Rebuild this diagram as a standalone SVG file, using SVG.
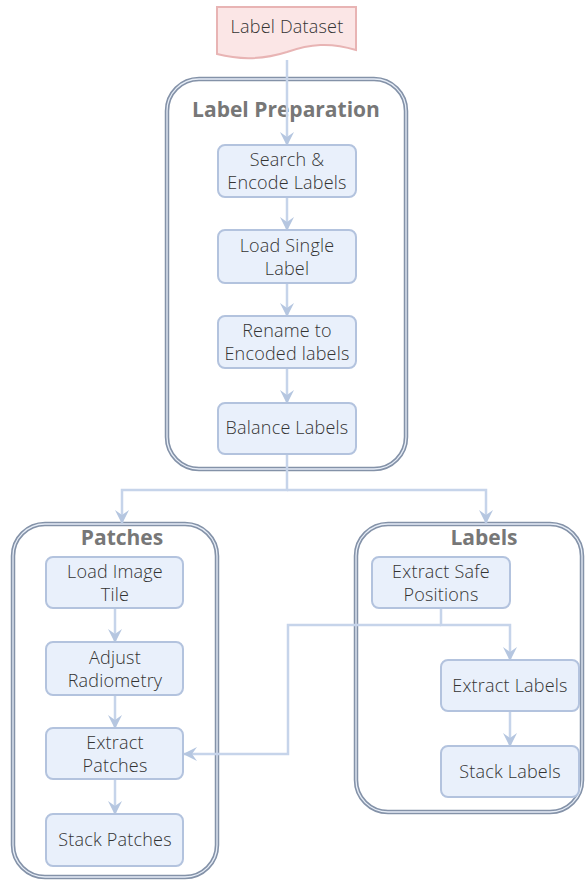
<svg xmlns="http://www.w3.org/2000/svg" width="585" height="881" viewBox="0 0 585 881">
  <defs>
    <style>
      .box { fill: #e9f0fb; stroke: #b3c3de; stroke-width: 2; }
      .txt { font-family: "Open Sans", "DejaVu Sans", sans-serif; font-size: 18px; font-weight: 300; fill: #333; text-anchor: middle; letter-spacing: 0.2px; }
      .title { font-family: "Open Sans", "DejaVu Sans", sans-serif; font-size: 21px; font-weight: 700; fill: #777; text-anchor: middle; }
      .grp-outer { fill: #fff; stroke: #8492a8; stroke-width: 4.5; }
      .grp-inner { fill: none; stroke: #e6edf7; stroke-width: 1.3; }
      .edge { fill: none; stroke: #c6d4ea; stroke-width: 2.5; }
      .doc { fill: #fbe6e6; stroke: #e8b4b4; stroke-width: 2; }
    </style>
    <marker id="arrow" viewBox="0 0 14 14" refX="13" refY="7" markerWidth="14" markerHeight="14" markerUnits="userSpaceOnUse" orient="auto">
      <path d="M0,0 L14,7 L0,14 L5,7 z" fill="#b5c6e0"/>
    </marker>
  </defs>

  <!-- containers -->
  <g id="group-label-preparation">
    <rect class="grp-outer" x="167" y="79" width="239" height="390" rx="32"/>
    <rect class="grp-inner" x="167" y="79" width="239" height="390" rx="32"/>
    <text class="title" x="286" y="117">Label Preparation</text>
  </g>
  <g id="group-patches">
    <rect class="grp-outer" x="13" y="524" width="204" height="353" rx="32"/>
    <rect class="grp-inner" x="13" y="524" width="204" height="353" rx="32"/>
    <text class="title" x="122" y="545">Patches</text>
  </g>
  <g id="group-labels">
    <rect class="grp-outer" x="356" y="524" width="226" height="288" rx="32"/>
    <rect class="grp-inner" x="356" y="524" width="226" height="288" rx="32"/>
    <text class="title" x="484" y="545">Labels</text>
  </g>

  <!-- connectors -->
  <g id="connectors">
    <path class="edge" d="M287,60 L287,145" marker-end="url(#arrow)"/>
    <path class="edge" d="M287,197 L287,230" marker-end="url(#arrow)"/>
    <path class="edge" d="M287,283 L287,316" marker-end="url(#arrow)"/>
    <path class="edge" d="M287,368 L287,403" marker-end="url(#arrow)"/>
    <path class="edge" d="M287,454 L287,490 L122,490 L122,523" marker-end="url(#arrow)"/>
    <path class="edge" d="M287,490 L486,490 L486,523" marker-end="url(#arrow)"/>
    <path class="edge" d="M115,608 L115,642" marker-end="url(#arrow)"/>
    <path class="edge" d="M115,695 L115,728" marker-end="url(#arrow)"/>
    <path class="edge" d="M115,779 L115,814" marker-end="url(#arrow)"/>
    <path class="edge" d="M441,608 L441,625 L510,625 L510,660" marker-end="url(#arrow)"/>
    <path class="edge" d="M441,625 L288,625 L288,754 L184,754" marker-end="url(#arrow)"/>
    <path class="edge" d="M510,711 L510,746" marker-end="url(#arrow)"/>
  </g>

  <!-- nodes -->
  <g id="label-dataset">
    <path class="doc" d="M217,7 L356,7 L356,50 C330,42 310,44 287,52 C262,60 240,60 217,54 Z"/>
    <text class="txt" x="287" y="33">Label Dataset</text>
  </g>
  <g id="search-encode">
    <rect class="box" x="218" y="145" width="138" height="52" rx="7"/>
    <text class="txt" x="287" y="166">Search &amp;</text>
    <text class="txt" x="287" y="189">Encode Labels</text>
  </g>
  <g id="load-single-label">
    <rect class="box" x="218" y="230" width="138" height="53" rx="7"/>
    <text class="txt" x="287" y="252">Load Single</text>
    <text class="txt" x="287" y="275">Label</text>
  </g>
  <g id="rename-encoded">
    <rect class="box" x="218" y="316" width="138" height="52" rx="7"/>
    <text class="txt" x="287" y="337">Rename to</text>
    <text class="txt" x="287" y="360">Encoded labels</text>
  </g>
  <g id="balance-labels">
    <rect class="box" x="218" y="403" width="138" height="51" rx="7"/>
    <text class="txt" x="287" y="434">Balance Labels</text>
  </g>

  <g id="load-image-tile">
    <rect class="box" x="46" y="557" width="137" height="51" rx="7"/>
    <text class="txt" x="115" y="578">Load Image</text>
    <text class="txt" x="115" y="601">Tile</text>
  </g>
  <g id="adjust-radiometry">
    <rect class="box" x="46" y="642" width="137" height="53" rx="7"/>
    <text class="txt" x="115" y="664">Adjust</text>
    <text class="txt" x="115" y="687">Radiometry</text>
  </g>
  <g id="extract-patches">
    <rect class="box" x="46" y="728" width="137" height="51" rx="7"/>
    <text class="txt" x="115" y="749">Extract</text>
    <text class="txt" x="115" y="772">Patches</text>
  </g>
  <g id="stack-patches">
    <rect class="box" x="46" y="814" width="137" height="52" rx="7"/>
    <text class="txt" x="115" y="846">Stack Patches</text>
  </g>

  <g id="extract-safe-positions">
    <rect class="box" x="372" y="557" width="138" height="51" rx="7"/>
    <text class="txt" x="441" y="578">Extract Safe</text>
    <text class="txt" x="441" y="601">Positions</text>
  </g>
  <g id="extract-labels">
    <rect class="box" x="441" y="660" width="138" height="51" rx="7"/>
    <text class="txt" x="510" y="692">Extract Labels</text>
  </g>
  <g id="stack-labels">
    <rect class="box" x="441" y="746" width="138" height="51" rx="7"/>
    <text class="txt" x="510" y="778">Stack Labels</text>
  </g>
</svg>
